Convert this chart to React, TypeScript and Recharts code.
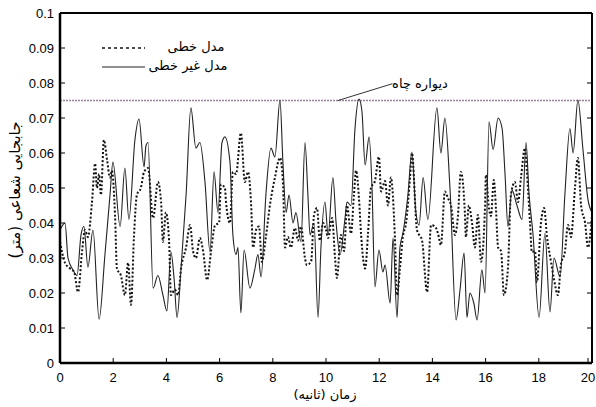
import { LineChart, Line, XAxis, YAxis, ReferenceLine } from 'recharts';

// linear model (dotted)
const linearTime = [
  0, 0.19, 0.38, 0.53, 0.68, 0.83, 0.94, 1.05, 1.2, 1.32,
  1.39, 1.47, 1.54, 1.65, 1.77, 1.88, 1.95, 2.07, 2.14, 2.29,
  2.44, 2.56, 2.67, 2.78, 2.89, 3.04, 3.16, 3.31, 3.5, 3.68,
  3.8, 3.87, 3.98, 4.1, 4.17, 4.32, 4.44, 4.55, 4.74, 4.89,
  5.0, 5.11, 5.26, 5.38, 5.53, 5.68, 5.83, 5.98, 6.05, 6.2,
  6.24, 6.39, 6.5, 6.62, 6.8, 6.95, 7.07, 7.18, 7.26, 7.37,
  7.48, 7.59, 7.74, 7.89, 8.08, 8.27, 8.38, 8.46, 8.57, 8.68,
  8.83, 8.95, 9.06, 9.21, 9.28, 9.44, 9.55, 9.66, 9.77, 9.89,
  10.0, 10.08, 10.23, 10.34, 10.41, 10.56, 10.68, 10.79, 10.94, 11.05,
  11.13, 11.24, 11.32, 11.47, 11.58, 11.69, 11.84, 11.99, 12.07, 12.22,
  12.33, 12.44, 12.59, 12.67, 12.78, 12.89, 13.01, 13.16, 13.23, 13.42,
  13.61, 13.8, 13.95, 14.1, 14.21, 14.32, 14.47, 14.59, 14.7, 14.85,
  14.96, 15.07, 15.22, 15.26, 15.37, 15.49, 15.6, 15.71, 15.83, 15.98,
  16.01, 16.13, 16.2, 16.31, 16.39, 16.47, 16.58, 16.69, 16.84, 16.95,
  17.1, 17.22, 17.33, 17.48, 17.55, 17.67, 17.74, 17.86, 17.93, 18.08,
  18.2, 18.31, 18.46, 18.57, 18.72, 18.83, 18.98, 19.1, 19.21, 19.36,
  19.47, 19.59, 19.74, 19.85, 20.0,
];
const linearDisp = [
  0.0346, 0.0286, 0.027, 0.026, 0.0203, 0.032, 0.038, 0.036, 0.0457, 0.057,
  0.05, 0.054, 0.048, 0.0637, 0.058, 0.053, 0.055, 0.042, 0.027, 0.025,
  0.0194, 0.0286, 0.0166, 0.036, 0.048, 0.05, 0.0546, 0.0557, 0.0414, 0.0517,
  0.046, 0.0346, 0.043, 0.035, 0.0194, 0.021, 0.0194, 0.027, 0.033, 0.0394,
  0.032, 0.03, 0.0357, 0.032, 0.0237, 0.032, 0.0394, 0.04, 0.051, 0.05,
  0.046, 0.04, 0.0546, 0.054, 0.0657, 0.0517, 0.0546, 0.046, 0.033, 0.038,
  0.039, 0.0289, 0.036, 0.045, 0.053, 0.0586, 0.052, 0.033, 0.036, 0.033,
  0.0386, 0.035, 0.039, 0.03, 0.028, 0.029, 0.0423, 0.0443, 0.035, 0.04,
  0.038, 0.0357, 0.0414, 0.03, 0.0243, 0.0366, 0.032, 0.045, 0.037, 0.048,
  0.055, 0.047, 0.0366, 0.027, 0.037, 0.05, 0.052, 0.0589, 0.049, 0.052,
  0.045, 0.053, 0.036, 0.0194, 0.027, 0.036, 0.04, 0.053, 0.06, 0.038,
  0.035, 0.0203, 0.0394, 0.039, 0.037, 0.0337, 0.049, 0.047, 0.045, 0.0366,
  0.042, 0.0546, 0.043, 0.036, 0.045, 0.04, 0.033, 0.0423, 0.0289, 0.045,
  0.0537, 0.044, 0.042, 0.0523, 0.044, 0.033, 0.032, 0.0194, 0.027, 0.048,
  0.0517, 0.046, 0.053, 0.0614, 0.055, 0.04, 0.0317, 0.032, 0.0231, 0.04,
  0.0443, 0.036, 0.0289, 0.024, 0.0194, 0.028, 0.0317, 0.0394, 0.036, 0.05,
  0.0586, 0.045, 0.04, 0.033, 0.0423,
];

// nonlinear model (solid)
const nonlinearTime = [
  0, 0.19, 0.3, 0.49, 0.64, 0.79, 0.9, 1.05, 1.24, 1.47,
  1.69, 1.88, 1.99, 2.26, 2.44, 2.59, 2.82, 2.97, 3.16, 3.23,
  3.31, 3.5, 3.68, 3.87, 4.02, 4.17, 4.29, 4.4, 4.55, 4.74,
  4.92, 5.11, 5.26, 5.45, 5.64, 5.79, 5.94, 6.09, 6.2, 6.39,
  6.5, 6.62, 6.69, 6.8, 6.92, 7.14, 7.33, 7.44, 7.56, 7.74,
  7.93, 8.08, 8.27, 8.38, 8.5, 8.61, 8.76, 8.87, 9.06, 9.21,
  9.32, 9.4, 9.55, 9.7, 9.81, 9.96, 10.08, 10.26, 10.38, 10.53,
  10.71, 10.79, 10.94, 11.09, 11.24, 11.35, 11.47, 11.62, 11.73, 11.84,
  11.99, 12.14, 12.22, 12.41, 12.52, 12.67, 12.78, 12.89, 13.08, 13.23,
  13.38, 13.5, 13.65, 13.83, 14.17, 14.32, 14.47, 14.66, 14.89, 15.04,
  15.19, 15.3, 15.41, 15.56, 15.68, 15.86, 15.98, 16.13, 16.28, 16.47,
  16.62, 16.73, 16.84, 16.99, 17.18, 17.37, 17.52, 17.63, 17.78, 18.01,
  18.23, 18.42, 18.57, 18.8, 18.98, 19.17, 19.29, 19.47, 19.66, 19.85,
  20.0,
];
const nonlinearDisp = [
  0.038, 0.04, 0.03, 0.0266, 0.025, 0.0366, 0.039, 0.0274, 0.038, 0.0125,
  0.031, 0.048, 0.0574, 0.039, 0.0557, 0.041, 0.064, 0.0697, 0.056, 0.062,
  0.063, 0.0214, 0.025, 0.0194, 0.0149, 0.0317, 0.024, 0.013, 0.027, 0.048,
  0.0729, 0.0614, 0.063, 0.0517, 0.0317, 0.0546, 0.043, 0.063, 0.0646, 0.0574,
  0.0366, 0.031, 0.033, 0.0143, 0.0323, 0.0214, 0.027, 0.031, 0.0246, 0.048,
  0.0614, 0.0589, 0.0751, 0.0574, 0.043, 0.048, 0.04, 0.043, 0.0346, 0.063,
  0.048, 0.0366, 0.04, 0.013, 0.033, 0.046, 0.0366, 0.053, 0.04, 0.031,
  0.041, 0.046, 0.045, 0.067, 0.0754, 0.072, 0.0566, 0.0646, 0.05, 0.0217,
  0.0323, 0.026, 0.028, 0.0171, 0.0357, 0.013, 0.033, 0.037, 0.048, 0.0603,
  0.043, 0.0394, 0.053, 0.041, 0.0729, 0.06, 0.07, 0.05, 0.0123, 0.021,
  0.0314, 0.013, 0.02, 0.017, 0.0123, 0.0266, 0.02, 0.0689, 0.061, 0.07,
  0.067, 0.054, 0.039, 0.0494, 0.045, 0.041, 0.063, 0.0486, 0.037, 0.013,
  0.037, 0.0146, 0.03, 0.0246, 0.048, 0.067, 0.06, 0.0751, 0.061, 0.0466,
  0.043,
];

const timeTicks = [0, 2, 4, 6, 8, 10, 12, 14, 16, 18, 20];
const dispTicks = [0, 0.01, 0.02, 0.03, 0.04, 0.05, 0.06, 0.07, 0.08, 0.09, 0.1];
const wallLevel = 0.075;
const wallPointer = [
  { x: 10.45, y: 0.075 },
  { x: 12.5, y: 0.0798 },
];

const numFont = 'Liberation Sans, Arial, sans-serif';
const faFont = 'DejaVu Sans, sans-serif';
const axisLine = { stroke: '#000', strokeWidth: 2.5 };
const TICK = 5;

const zip = (ts: number[], vs: number[]) => ts.map((t, i) => ({ t, v: vs[i] }));
const fmt = (v: number) => String(Number(v.toFixed(2)));

// ticks point into the plot, like the matlab figure
function BottomTick({ x, y, payload }: any) {
  const ay = y - 10;
  return (
    <g>
      <line x1={x} y1={ay} x2={x} y2={ay - TICK} stroke="#000" />
      <text x={x} y={y} dy="0.71em" textAnchor="middle" fontSize={13} fontFamily={numFont} fill="#000">
        {payload.value}
      </text>
    </g>
  );
}

function LeftTick({ x, y, payload }: any) {
  const ax = x + 6;
  return (
    <g>
      <line x1={ax} y1={y} x2={ax + TICK} y2={y} stroke="#000" />
      <text x={x} y={y} dy="0.355em" textAnchor="end" fontSize={13} fontFamily={numFont} fill="#000">
        {fmt(payload.value)}
      </text>
    </g>
  );
}

function TopTick({ x, y }: any) {
  return <line x1={x} y1={y} x2={x} y2={y + TICK} stroke="#000" />;
}

function RightTick({ x, y }: any) {
  return <line x1={x} y1={y} x2={x - TICK} y2={y} stroke="#000" />;
}

export default function App() {
  const linear = zip(linearTime, linearDisp);
  const nonlinear = zip(nonlinearTime, nonlinearDisp);

  return (
    <div style={{ position: 'absolute', left: 0, top: 0, width: 596, height: 407, background: '#fff' }}>
      <LineChart width={596} height={407} margin={{ top: 12, right: 3, bottom: 0, left: 0 }}>
        <XAxis
          dataKey="t"
          type="number"
          domain={[0, 20]}
          ticks={timeTicks}
          height={44}
          axisLine={axisLine}
          tickLine={false}
          tickSize={0}
          tickMargin={10}
          tick={<BottomTick />}
          allowDataOverflow
        />
        <XAxis
          xAxisId="top"
          orientation="top"
          type="number"
          domain={[0, 20]}
          ticks={timeTicks}
          height={1}
          axisLine={{ stroke: '#000', strokeWidth: 2 }}
          tickLine={false}
          tickSize={0}
          tickMargin={0}
          tick={<TopTick />}
          allowDataOverflow
        />
        <YAxis
          type="number"
          domain={[0, 0.1]}
          ticks={dispTicks}
          width={60}
          axisLine={axisLine}
          tickLine={false}
          tickSize={0}
          tickMargin={6}
          tick={<LeftTick />}
          allowDataOverflow
        />
        <YAxis
          yAxisId="right"
          orientation="right"
          type="number"
          domain={[0, 0.1]}
          ticks={dispTicks}
          width={1}
          axisLine={{ stroke: '#000', strokeWidth: 2 }}
          tickLine={false}
          tickSize={0}
          tickMargin={0}
          tick={<RightTick />}
          allowDataOverflow
        />
        <ReferenceLine y={wallLevel} stroke="#a07ca6" strokeWidth={1.5} strokeDasharray="2 1" />
        <ReferenceLine segment={wallPointer} stroke="#333" strokeWidth={1} ifOverflow="visible" />
        <Line
          data={linear}
          dataKey="v"
          type="monotone"
          stroke="#111"
          strokeWidth={2}
          strokeDasharray="2 2"
          dot={false}
          isAnimationActive={false}
        />
        <Line
          data={nonlinear}
          dataKey="v"
          type="monotone"
          stroke="#222"
          strokeWidth={1.1}
          dot={false}
          isAnimationActive={false}
        />
      </LineChart>
      <svg
        width={596}
        height={407}
        style={{ position: 'absolute', left: 0, top: 0, pointerEvents: 'none' }}
      >
        <line x1={102} y1={48} x2={145} y2={48} stroke="#111" strokeWidth={1.5} strokeDasharray="3 3" />
        <line x1={102} y1={67} x2={145} y2={67} stroke="#222" strokeWidth={1.1} />
        <text x={196} y={47} direction="rtl" textAnchor="middle" dominantBaseline="middle" fontSize={13} fontFamily={faFont}>
          مدل خطی
        </text>
        <text x={188} y={66} direction="rtl" textAnchor="middle" dominantBaseline="middle" fontSize={13} fontFamily={faFont}>
          مدل غیر خطی
        </text>
        <text x={420} y={84} direction="rtl" textAnchor="middle" dominantBaseline="middle" fontSize={13} fontFamily={faFont}>
          دیواره چاه
        </text>
        <text x={325} y={395} direction="rtl" textAnchor="middle" dominantBaseline="middle" fontSize={13} fontFamily={faFont}>
          زمان (ثانیه)
        </text>
        <text
          x={15}
          y={190}
          direction="rtl"
          textAnchor="middle"
          dominantBaseline="middle"
          fontSize={15}
          fontFamily={faFont}
          transform="rotate(-90 15 190)"
        >
          جابجایی شعاعی (متر)
        </text>
      </svg>
    </div>
  );
}
